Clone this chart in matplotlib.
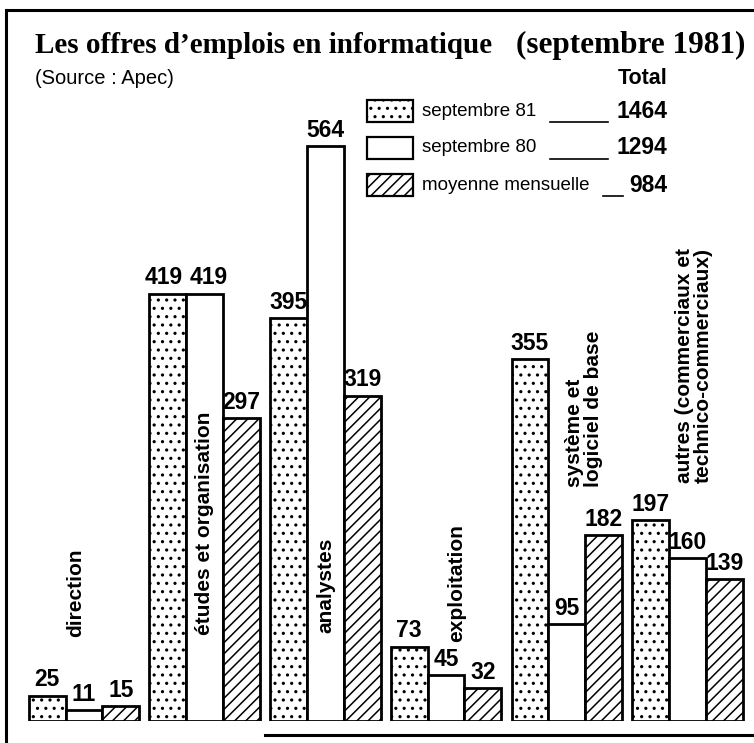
"""Offres d'emplois en informatique (septembre 1981) - grouped bars, old print style."""

import matplotlib
matplotlib.use("Agg")
import matplotlib.pyplot as plt
import numpy as np
from matplotlib.lines import Line2D
from matplotlib.patches import Rectangle

CATEGORIES = [
    "direction",
    "études et organisation",
    "analystes",
    "exploitation",
    "système et\nlogiciel de base",
    "autres (commerciaux et\ntechnico-commerciaux)",
]
SEPT_81 = [25, 419, 395, 73, 355, 197]
SEPT_80 = [11, 419, 564, 45, 95, 160]
MOYENNE = [15, 297, 319, 32, 182, 139]
SERIES = ["septembre 81", "septembre 80", "moyenne mensuelle"]
TOTALS = [1464, 1294, 984]

W, H = 754, 743
HATCHES = ["..", "", "///"]
SANS = ["Liberation Sans", "DejaVu Sans"]
SERIF = ["Liberation Serif", "DejaVu Serif"]

# where each category label sits: (x offset from group centre, value where text starts)
LABEL_POS = [(-0.07, 82), (0.0, 84), (0.0, 86), (0.09, 77), (0.14, 229), (0.05, 233)]
# small sideways nudges (points) for the value labels that would collide
NUDGE = {(1, 0): -3, (1, 1): 3}


def fx(x):
    return x / W


def fy(y):
    return 1 - y / H


def main():
    plt.rcParams["hatch.linewidth"] = 1.1
    fig = plt.figure(figsize=(W / 100, H / 100), dpi=100)
    fig.patch.set_facecolor("white")

    # axes: baseline at y=721 px, top at y=100 px, ~1.02 px per offer
    ax = fig.add_axes([fx(10), fy(721), fx(740), (721 - 100) / H])
    ax.set_xlim(-0.613, 5.518)
    ax.set_ylim(0, 621 / 1.02)
    ax.axis("off")

    x = np.arange(len(CATEGORIES))
    width = 0.305
    for i, (vals, hatch) in enumerate(zip([SEPT_81, SEPT_80, MOYENNE], HATCHES)):
        pos = x + (i - 1) * width
        ax.bar(pos, vals, width, facecolor="white", edgecolor="black",
               linewidth=2.0, hatch=hatch, zorder=2)
        for g, (px_, v) in enumerate(zip(pos, vals)):
            ax.annotate(str(v), (px_, v), xytext=(NUDGE.get((g, i), 0), 3),
                        textcoords="offset points", ha="center", va="bottom",
                        family=SANS, weight="bold", fontsize=16.5)

    for xi, label, (dx, ystart) in zip(x, CATEGORIES, LABEL_POS):
        ax.text(xi + dx, ystart, label, rotation=90, rotation_mode="anchor",
                ha="left", va="center", multialignment="left",
                family=SANS, weight="bold", fontsize=15, linespacing=1.0,
                zorder=3)

    # title block
    fig.text(fx(35), fy(53), "Les offres d’emplois en informatique",
             family=SERIF, weight="bold", fontsize=21, va="baseline")
    fig.text(fx(745), fy(53), "(septembre 1981)", family=SERIF, weight="semibold",
             fontsize=22.5, va="baseline", ha="right")
    fig.text(fx(35), fy(78), "(Source : Apec)", family=SANS,
             fontsize=14.5, va="center")
    fig.text(fx(667), fy(78), "Total", family=SANS, weight="bold",
             fontsize=15.5, va="center", ha="right")

    # legend drawn by hand
    rows_y = [111, 148, 185]
    dash_x = [(550, 608), (550, 608), (603, 623)]
    for name, total, hatch, ry, (d0, d1) in zip(SERIES, TOTALS, HATCHES, rows_y, dash_x):
        fig.patches.append(Rectangle((fx(367), fy(ry + 11)), fx(46), 22 / H,
                                     transform=fig.transFigure, facecolor="white",
                                     edgecolor="black", linewidth=1.6, hatch=hatch))
        fig.text(fx(422), fy(ry), name, family=SANS, fontsize=13.5, va="center")
        fig.add_artist(Line2D([fx(d0), fx(d1)], [fy(ry + 11), fy(ry + 11)],
                              transform=fig.transFigure, color="black", lw=1.2))
        fig.text(fx(667), fy(ry), str(total), family=SANS, weight="bold",
                 fontsize=16.5, va="center", ha="right")

    # frame (bottom edge only partly printed in the scan)
    for xs, ys in [((8, 754), (10, 10)), ((6, 6), (10, 743)), ((265, 754), (735, 735))]:
        fig.add_artist(Line2D([fx(xs[0]), fx(xs[1])], [fy(ys[0]), fy(ys[1])],
                              transform=fig.transFigure, color="black", lw=2.2))

    fig.savefig("out.png", dpi=100)


if __name__ == "__main__":
    main()
